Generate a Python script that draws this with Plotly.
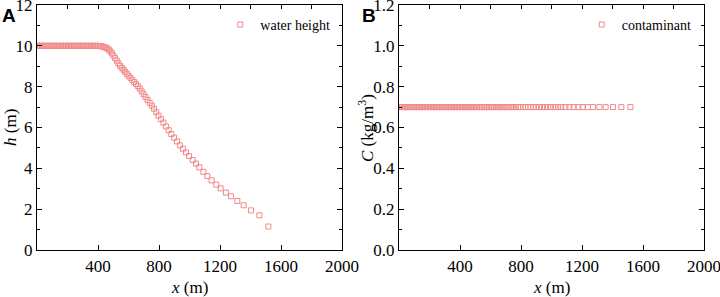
import plotly.graph_objects as go

# ---- data ----
x_pos = [0, 10, 20, 30, 40, 50, 60, 70, 80, 90, 100, 110, 120, 130, 140, 150, 160, 170, 180, 190,
         200, 210, 220, 230, 240, 250, 260, 270, 280, 290, 300, 310, 320, 330, 340, 350, 360, 370, 380, 390,
         401, 411, 421, 431, 441, 451, 461, 471, 481, 491, 501, 512, 523, 534, 545, 556, 567, 578, 589, 601,
         613, 625, 637, 649, 661, 673, 686, 699, 712, 725, 739, 753, 767, 782, 797, 813, 829, 846, 863, 881,
         899, 918, 937, 957, 977, 997, 1021, 1043, 1064, 1091, 1117, 1145, 1176, 1204, 1239, 1272, 1314,
         1355, 1403, 1458, 1517]
water_height = [10.0] * 40 + [
    10.0, 9.99, 9.98, 9.96, 9.94, 9.91, 9.87, 9.81, 9.73, 9.63, 9.52, 9.40, 9.27, 9.14, 9.02, 8.92, 8.83,
    8.73, 8.63, 8.53, 8.43, 8.33, 8.23, 8.13, 8.03, 7.91, 7.77, 7.63, 7.49, 7.35, 7.21, 7.07, 6.92, 6.75,
    6.58, 6.41, 6.24, 6.05, 5.87, 5.68, 5.50, 5.32, 5.13, 4.96, 4.78, 4.60, 4.41, 4.23, 4.05, 3.83, 3.62,
    3.41, 3.20, 3.02, 2.81, 2.63, 2.40, 2.19, 1.94, 1.70, 1.15]
contaminant = [0.7] * len(x_pos)

x_ticks = [400, 800, 1200, 1600, 2000]
x_top_ticks = [0, 200, 400, 600, 800, 1000, 1200, 1400, 1600, 1800, 2000]
h_ticks = [0, 2, 4, 6, 8, 10, 12]
c_ticks = [0.0, 0.2, 0.4, 0.6, 0.8, 1.0, 1.2]

MARK = "#F08A8A"
FONT = "Liberation Serif"
W, H = 720, 297
TOP, BOT = 5, 250  # plot area pixel rows

fig = go.Figure()
fig.add_trace(go.Scatter(x=x_pos, y=water_height, mode="markers", name="water height",
                         marker=dict(symbol="square-open", size=5, color=MARK, line=dict(width=1)),
                         xaxis="x", yaxis="y", legend="legend"))
fig.add_trace(go.Scatter(x=x_pos, y=contaminant, mode="markers", name="contaminant",
                         marker=dict(symbol="square-open", size=5, color=MARK, line=dict(width=1)),
                         xaxis="x2", yaxis="y2", legend="legend2"))

dA = [37 / W, 342 / W]
dB = [399 / W, 704 / W]

axline = dict(showline=True, linecolor="black", linewidth=1.3, ticks="inside", ticklen=5,
              tickwidth=1.2, tickcolor="black", showgrid=False, zeroline=False, automargin=False,
              ticklabeloverflow="allow",
              tickfont=dict(family=FONT, size=17, color="black"))
topax = dict(side="top", showticklabels=False, tickvals=x_top_ticks, ticks="inside", ticklen=4,
             tickwidth=1.2, tickcolor="black", showgrid=False, zeroline=False, showline=False,
             automargin=False)

fig.update_layout(
    width=W, height=H, margin=dict(l=0, r=0, t=TOP, b=H - BOT, autoexpand=False),
    plot_bgcolor="white", paper_bgcolor="white",
    font=dict(family=FONT, color="black"),
    xaxis=dict(domain=dA, range=[0, 2000], tickvals=x_ticks, mirror=True, anchor="y", **axline),
    yaxis=dict(domain=[0, 1], range=[0, 12], tickvals=h_ticks, mirror="ticks", anchor="x",
               minor=dict(ticks="inside", ticklen=3, dtick=1, tickcolor="black"), **axline),
    xaxis2=dict(domain=dB, range=[0, 2000], tickvals=x_ticks, mirror=True, anchor="y2", **axline),
    yaxis2=dict(domain=[0, 1], range=[0, 1.2], tickvals=c_ticks, tickformat=".1f", mirror="ticks",
                anchor="x2", minor=dict(ticks="inside", ticklen=3, dtick=0.1, tickcolor="black"),
                **axline),
    xaxis3=dict(overlaying="x", matches="x", anchor="y", **topax),
    xaxis4=dict(overlaying="x2", matches="x2", anchor="y2", **topax),
    legend=dict(x=0.306, y=0.984, xanchor="left", yanchor="top", bgcolor="rgba(0,0,0,0)",
                font=dict(family=FONT, size=14), itemwidth=30),
    legend2=dict(x=0.808, y=0.984, xanchor="left", yanchor="top", bgcolor="rgba(0,0,0,0)",
                 font=dict(family=FONT, size=14), itemwidth=30),
    showlegend=True,
)

fig.add_trace(go.Scatter(x=[None], y=[None], xaxis="x3", yaxis="y", showlegend=False, hoverinfo="skip"))
fig.add_trace(go.Scatter(x=[None], y=[None], xaxis="x4", yaxis="y2", showlegend=False, hoverinfo="skip"))


def py(p):
    return (BOT - p) / (BOT - TOP)


def ann(text, x, y, size, family=FONT, angle=0, xanchor="center", yanchor="middle"):
    fig.add_annotation(text=text, x=x / W, y=py(y), xref="paper", yref="paper", showarrow=False,
                       xanchor=xanchor, yanchor=yanchor, textangle=angle,
                       font=dict(family=family, size=size, color="black"))


ann("<b>A</b>", 0, 3, 19, family="Liberation Sans", xanchor="left", yanchor="top")
ann("<b>B</b>", 360, 3, 19, family="Liberation Sans", xanchor="left", yanchor="top")
ann("<i>x</i> (m)", 189.5, 287, 17)
ann("<i>x</i> (m)", 551.5, 287, 17)
ann("<i>h</i> (m)", 10, 128, 17, angle=-90)
ann("<i>C</i> (kg/m<sup>3</sup>)", 366, 128, 17, angle=-90)

fig.write_html("out.html", post_script="document.body.style.margin='0px';",
               config={"displayModeBar": False})
